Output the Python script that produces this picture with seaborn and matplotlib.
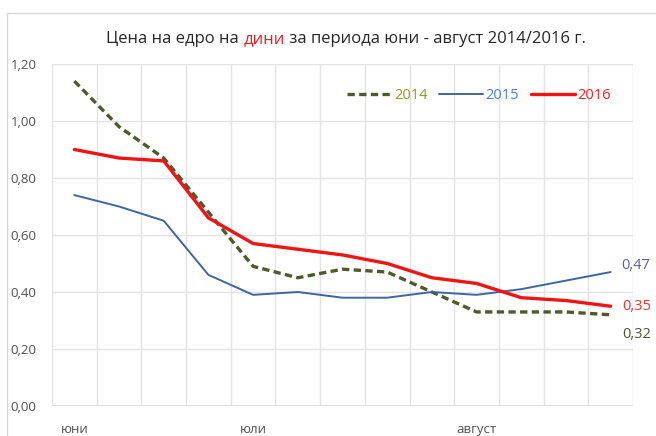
import matplotlib
matplotlib.use("Agg")
import matplotlib.pyplot as plt
import matplotlib.text as mtext
import seaborn as sns
import pandas as pd
from matplotlib.patches import Rectangle
from matplotlib.ticker import MultipleLocator, FixedLocator, FuncFormatter

sns.set_style("white")
plt.rcParams['font.family'] = ['Open Sans', 'DejaVu Sans']
plt.rcParams['font.size'] = 10

# weekly points, June - August
week_labels = ["юни", "", "", "", "юли", "", "", "", "", "август", "", "", ""]
price_2014 = [1.14, 0.98, 0.87, 0.68, 0.49, 0.45, 0.48, 0.47, 0.40, 0.33, 0.33, 0.33, 0.32]
price_2015 = [0.74, 0.70, 0.65, 0.46, 0.39, 0.40, 0.38, 0.38, 0.40, 0.39, 0.41, 0.44, 0.47]
price_2016 = [0.90, 0.87, 0.86, 0.66, 0.57, 0.55, 0.53, 0.50, 0.45, 0.43, 0.38, 0.37, 0.35]
years = ["2014", "2015", "2016"]

series = {"2014": price_2014, "2015": price_2015, "2016": price_2016}
frames = []
for year in years:
    frames.append(pd.DataFrame({"week": range(len(week_labels)), "price": series[year], "year": year}))
df = pd.concat(frames, ignore_index=True)

line_colors = {"2014": "#4d5a2b", "2015": "#3f66a3", "2016": "#f01414"}
text_colors = {"2014": "#8a9a24", "2015": "#4a7de0", "2016": "#ee2020"}
label_colors = {"2014": "#4a5530", "2015": "#5a5fa8", "2016": "#e8323c"}
widths = {"2014": 2.4, "2015": 1.4, "2016": 2.4}

def comma(v):
    return f"{v:.2f}".replace(".", ",")

fig = plt.figure(figsize=(6.56, 4.36), dpi=100)
ax = fig.add_axes([52 / 656, 30 / 436, 581 / 656, 342 / 436])

for year in years:
    sub = df[df["year"] == year]
    sns.lineplot(data=sub, x="week", y="price", color=line_colors[year], linewidth=widths[year],
                 label=year, ax=ax)
ax.lines[0].set_dashes((2.2, 1.3))

n = len(week_labels)
ax.set_xlim(-0.5, n - 0.5)
ax.set_ylim(0, 1.2)
ax.yaxis.set_major_locator(MultipleLocator(0.2))
ax.yaxis.set_major_formatter(FuncFormatter(lambda v, p: comma(v)))
ax.xaxis.set_minor_locator(FixedLocator([i - 0.5 for i in range(n + 1)]))
label_pos = [i for i, l in enumerate(week_labels) if l]
ax.xaxis.set_major_locator(FixedLocator(label_pos))
ax.set_xticklabels([week_labels[i] for i in label_pos])
ax.grid(axis="y", which="major", color="#e3e3e3", linewidth=1)
ax.grid(axis="x", which="minor", color="#e3e3e3", linewidth=1)
ax.grid(axis="x", which="major", visible=False)
ax.tick_params(axis="both", which="both", length=0, colors="#505050", labelsize=9.5)
ax.tick_params(axis="x", pad=12)
ax.tick_params(axis="y", pad=11)
for s in ax.spines.values():
    s.set_visible(False)
ax.axhline(0, color="#d9d9d9", linewidth=1.2)
ax.set_xlabel("")
ax.set_ylabel("")

leg = ax.legend(loc="center right", bbox_to_anchor=(0.985, 0.909), ncol=3, frameon=False,
                handlelength=3.0, handletextpad=0.2, columnspacing=0.8, fontsize=10.5)
for txt in leg.get_texts():
    txt.set_color(text_colors[txt.get_text()])

# end-of-line value labels
last = n - 1
ax.annotate(comma(price_2015[-1]), (last, price_2015[-1]), xytext=(11, 7),
            textcoords="offset pixels", color=label_colors["2015"], fontsize=10.5, va="center")
ax.annotate(comma(price_2016[-1]), (last, price_2016[-1]), xytext=(12, 0),
            textcoords="offset pixels", color=label_colors["2016"], fontsize=10.5, va="center")
ax.annotate(comma(price_2014[-1]), (last, price_2014[-1]), xytext=(12, -20),
            textcoords="offset pixels", color=label_colors["2014"], fontsize=10.5, va="center")

# title with the product name in red, pieces chained one after another
parts = [("Цена на едро на ", "#262626"), ("дини", "#e02020"),
         (" за периода юни - август 2014/2016 г.", "#262626")]
t = fig.text(0.5, 1 - 47 / 436, parts[0][0], color=parts[0][1], fontsize=12, va="bottom")
prev = t
pieces = [t]
for text, color in parts[1:]:
    prev = fig.add_artist(mtext.Annotation(text, xy=(1, 0), xycoords=prev, va="bottom",
                                           color=color, fontsize=12))
    pieces.append(prev)
fig.canvas.draw()
r = fig.canvas.get_renderer()
x0 = pieces[0].get_window_extent(r).x0
x1 = pieces[-1].get_window_extent(r).x1
t.set_x(0.527 - (x1 - x0) / 656 / 2)

fig.add_artist(Rectangle((7 / 656, -0.05), 1, 1.05 - 13 / 436, transform=fig.transFigure,
                         fill=False, edgecolor="#d9d9d9", linewidth=1))

fig.savefig("out.png", dpi=100)
